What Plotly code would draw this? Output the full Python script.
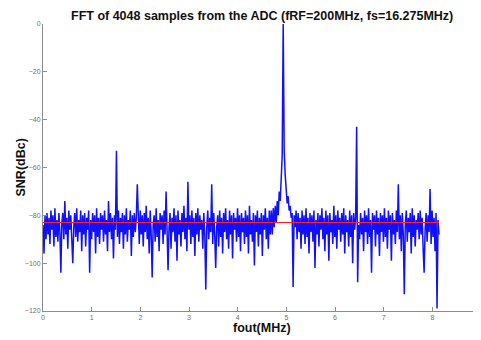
import plotly.graph_objects as go

# ---- data ----
FS_MHZ = 16.275
N_SAMPLES = 4048
NOISE_FLOOR_DBC = -83

snr_dbc = [
    -84, -96, -80, -90, -79, -88, -81, -92, -78, -86, -80, -93, -77, -89, -82, -91, -79, -87, -104, -83,
    -79, -90, -74, -88, -81, -94, -78, -86, -80, -92, -100, -85, -79, -89, -77, -91, -82, -87, -78, -95,
    -80, -88, -79, -93, -81, -86, -78, -104, -82, -90, -79, -87, -80, -96, -77, -89, -81, -92, -79, -86,
    -80, -91, -78, -88, -82, -95, -74, -87, -79, -90, -81, -98, -80, -86, -53, -89, -78, -92, -81, -87,
    -79, -94, -80, -88, -77, -91, -82, -86, -78, -97, -80, -89, -79, -87, -81, -67, -85, -92, -78, -88,
    -80, -93, -79, -87, -76, -90, -81, -96, -78, -88, -106, -84, -80, -91, -77, -89, -82, -95, -79, -86,
    -80, -92, -78, -88, -70, -90, -103, -85, -79, -94, -81, -87, -77, -91, -80, -99, -78, -88, -82, -93,
    -79, -87, -76, -90, -81, -95, -66, -86, -80, -92, -78, -89, -81, -97, -79, -88, -77, -91, -80, -86,
    -82, -94, -79, -88, -111, -85, -78, -90, -81, -87, -67, -92, -79, -88, -102, -85, -80, -93, -78, -89,
    -81, -96, -79, -87, -77, -90, -82, -94, -78, -88, -80, -98, -79, -86, -81, -91, -77, -89, -80, -95,
    -79, -87, -81, -92, -78, -89, -80, -96, -76, -88, -82, -91, -79, -101, -80, -87, -78, -93, -81, -88,
    -79, -97, -80, -86, -77, -90, -81, -94, -78, -88, -78, -88, -77, -85, -76, -83, -74, -80, -70, -74,
    -64, -55, 0, -53, -63, -70, -75, -72, -78, -76, -81, -79, -110, -80, -85, -78, -90, -79, -87, -81,
    -94, -78, -88, -80, -92, -77, -89, -81, -96, -79, -87, -80, -91, -78, -102, -82, -88, -79, -93, -80,
    -86, -77, -90, -81, -95, -78, -88, -80, -99, -79, -87, -82, -92, -76, -89, -80, -94, -78, -86, -81,
    -91, -79, -88, -77, -96, -80, -87, -82, -93, -78, -89, -80, -100, -79, -86, -81, -43, -108, -84, -90,
    -79, -88, -81, -95, -78, -87, -80, -92, -77, -89, -82, -104, -79, -86, -80, -93, -78, -88, -81, -97,
    -79, -87, -80, -91, -77, -89, -81, -94, -78, -86, -80, -99, -79, -88, -82, -92, -78, -87, -67, -90,
    -80, -95, -79, -88, -113, -84, -78, -91, -81, -87, -79, -96, -77, -89, -80, -93, -82, -86, -79, -90,
    -78, -88, -81, -94, -104, -86, -79, -91, -80, -87, -69, -92, -78, -89, -81, -95, -79, -119, -82, -88,
]

x_ticks = [0, 1, 2, 3, 4, 5, 6, 7, 8, 9]
y_ticks = [0, -20, -40, -60, -80, -100, -120]

# frequency of each plotted bin, spanning 0 .. fs/2
f_max = FS_MHZ / 2
freq_mhz = [k * f_max / (len(snr_dbc) - 1) for k in range(len(snr_dbc))]

fig = go.Figure()
fig.add_trace(go.Scatter(
    x=freq_mhz, y=snr_dbc, mode="lines",
    line=dict(color="#1010ff", width=1.5), showlegend=False,
))
fig.add_trace(go.Scatter(
    x=[0, f_max], y=[NOISE_FLOOR_DBC, NOISE_FLOOR_DBC], mode="lines",
    line=dict(color="#ff2020", width=1), showlegend=False,
))

axis_common = dict(
    showgrid=False, zeroline=False, showline=True, linecolor="#8c8c8c",
    linewidth=1, ticks="inside", ticklen=4, tickcolor="#8c8c8c",
    tickfont=dict(family="Liberation Sans, Arial", size=7, color="#707070"),
    mirror=False, automargin=False,
)

# the page body adds an 8 px offset, so the figure is 8 px smaller each way
fig.update_layout(
    width=473, height=332,
    margin=dict(l=35, r=0, t=16, b=29),
    paper_bgcolor="white", plot_bgcolor="white",
    xaxis=dict(range=[0, 9], tickvals=x_ticks, **axis_common),
    yaxis=dict(range=[-120, 0], tickvals=y_ticks, **axis_common),
    annotations=[
        dict(text="<b>FFT of 4048 samples from the ADC (fRF=200MHz, fs=16.275MHz)</b>",
             xref="paper", yref="paper", x=0.5, y=1, yshift=8, showarrow=False,
             xanchor="center", yanchor="middle",
             font=dict(family="Liberation Sans, Arial", size=12.5, color="#111111")),
        dict(text="<b>fout(MHz)</b>",
             xref="paper", yref="paper", x=0.5, y=0, yshift=-17, showarrow=False,
             xanchor="center", yanchor="middle",
             font=dict(family="Liberation Sans, Arial", size=12.5, color="#111111")),
        dict(text="<b>SNR(dBc)</b>", textangle=-90,
             xref="paper", yref="paper", x=0, xshift=-23, y=0.5, showarrow=False,
             xanchor="center", yanchor="middle",
             font=dict(family="Liberation Sans, Arial", size=12.5, color="#111111")),
    ],
)

fig.write_html("out.html")
